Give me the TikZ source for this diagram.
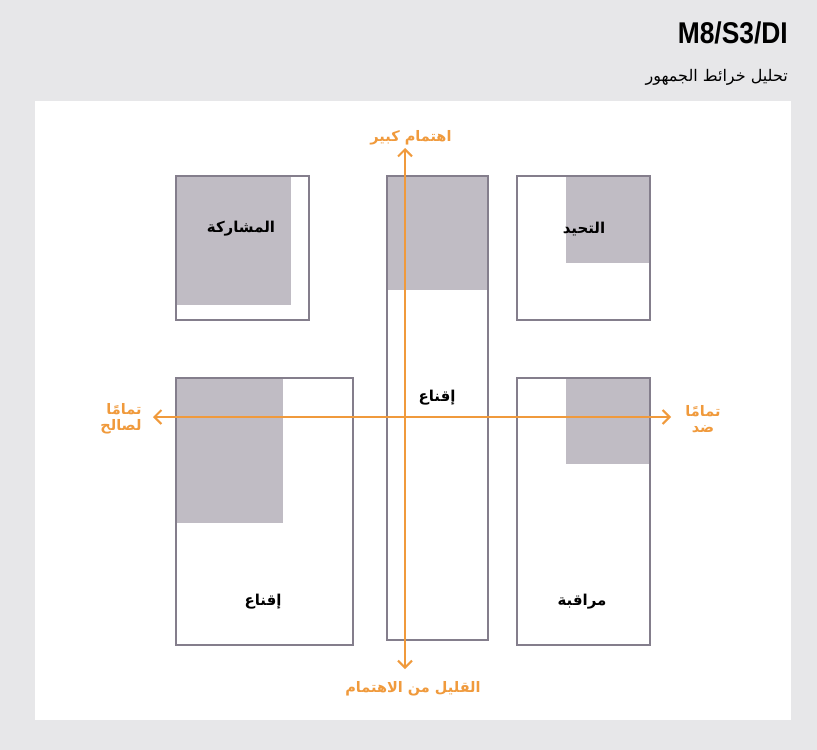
\documentclass[tikz,border=0pt]{standalone}
\usepackage{fontspec}
\setmainfont{Liberation Sans}
\newfontfamily\arabicfont[Script=Arabic]{DejaVu Sans}
\TeXXeTstate=1
\usetikzlibrary{arrows.meta}
\definecolor{bgc}{HTML}{E7E7E9}
\definecolor{edgec}{HTML}{847E8C}
\definecolor{fillc}{HTML}{C0BCC4}
\definecolor{orng}{HTML}{F09A3C}
\tikzset{
  frame/.style={draw=edgec, line width=2pt, anchor=north west, inner sep=0pt, outer sep=0pt},
  shade/.style={fill=fillc, anchor=north west, inner sep=0pt, outer sep=0pt},
  lbl/.style={font=\fontsize{15}{17}\selectfont\arabicfont\bfseries, text=black},
  olbl/.style={font=\fontsize{14.5}{16}\selectfont\arabicfont\bfseries, text=orng, align=right},
  axis/.style={draw=orng, line width=2pt, {Straight Barb[length=7pt,width=14pt,line width=2pt]}-{Straight Barb[length=7pt,width=14pt,line width=2pt]}}
}
\begin{document}
\begin{tikzpicture}[x=1pt,y=-1pt]
\useasboundingbox (0,0) rectangle (817,750);
\fill[bgc] (0,0) rectangle (817,750);
\fill[white] (35,101) rectangle (791,720);
% title
\node[anchor=north east, inner sep=0pt, font=\fontsize{30}{32}\selectfont\bfseries] (title) at (788,22) {\scalebox{0.88}[1]{M8/S3/DI}};
\node[anchor=east, inner sep=0pt, font=\fontsize{16}{18}\selectfont\arabicfont] (sub) at (788,77) {\beginR تحليل خرائط الجمهور\endR};
% shaded areas
\node[shade, minimum width=115pt, minimum height=129pt] (s1) at (176,176) {};
\node[shade, minimum width=101pt, minimum height=114pt] (s2) at (387,176) {};
\node[shade, minimum width=84pt, minimum height=87pt] (s3) at (566,176) {};
\node[shade, minimum width=107pt, minimum height=145pt] (s4) at (176,378) {};
\node[shade, minimum width=84pt, minimum height=86pt] (s5) at (566,378) {};
% frames
\node[frame, minimum width=133pt, minimum height=144pt] (b1) at (176,176) {};
\node[frame, minimum width=101pt, minimum height=464pt] (b2) at (387,176) {};
\node[frame, minimum width=133pt, minimum height=144pt] (b3) at (517,176) {};
\node[frame, minimum width=177pt, minimum height=267pt] (b4) at (176,378) {};
\node[frame, minimum width=133pt, minimum height=267pt] (b5) at (517,378) {};
% axes
\coordinate (vt) at (405,148);
\coordinate (vb) at (405,669);
\coordinate (hl) at (153,417);
\coordinate (hr) at (671,417);
\draw[axis] (vb) -- (vt);
\draw[axis] (hl) -- (hr);
% box labels
\node[lbl] (t1) at (241,229) {\beginR المشاركة\endR};
\node[lbl] (t2) at (437,398) {\beginR إقناع\endR};
\node[lbl] (t3) at (584,229) {\beginR التحيد\endR};
\node[lbl] (t4) at (263,602) {\beginR إقناع\endR};
\node[lbl] (t5) at (582,602) {\beginR مراقبة\endR};
% axis labels
\node[olbl] (top) at (411,138) {\beginR اهتمام كبير\endR};
\node[olbl] (bot) at (413,689) {\beginR القليل من الاهتمام\endR};
\node[olbl, anchor=east] (left) at (145,419) {\beginR تمامًا\endR\\\beginR لصالح\endR};
\node[olbl, align=center] (right) at (703,419) {\beginR تمامًا\endR\\\beginR ضد\endR};
\end{tikzpicture}
\end{document}
